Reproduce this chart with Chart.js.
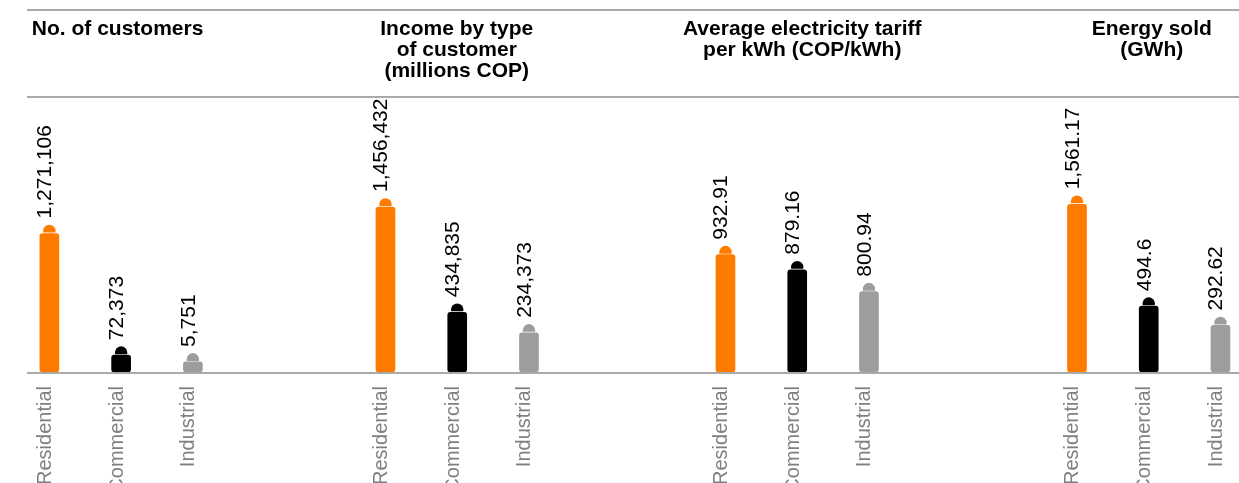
<!DOCTYPE html>
<html>
<head>
<meta charset="utf-8">
<title>Customers, income, tariff and energy by customer type</title>
<script src="https://cdn.jsdelivr.net/npm/chart.js@4.4.1/dist/chart.umd.min.js"></script>
<style>
  html, body { margin: 0; padding: 0; background: #fff; overflow: hidden; }
  #stage { position: relative; width: 1239px; height: 483px; overflow: hidden; background: #fff; }
  .rule { position: absolute; left: 27px; right: 0; height: 2px; background: #a9a9a9; }
  .panel { position: absolute; top: 0; left: 0; width: 1300px; height: 483px; }
</style>
</head>
<body>
<div id="stage">
  <div class="rule" style="top:9px"></div>
  <div class="rule" style="top:96px"></div>
  <div class="rule" style="top:372px"></div>
  <div class="panel"><canvas id="panel0" width="1300" height="483"></canvas></div>
  <div class="panel"><canvas id="panel1" width="1300" height="483"></canvas></div>
  <div class="panel"><canvas id="panel2" width="1300" height="483"></canvas></div>
  <div class="panel"><canvas id="panel3" width="1300" height="483"></canvas></div>
</div>
<script>
// ---- data ----
const categories = ['Residential', 'Commercial', 'Industrial'];

const titleCustomers = ['No. of customers'];
const titleIncome = ['Income by type', 'of customer', '(millions COP)'];
const titleTariff = ['Average electricity tariff', 'per kWh (COP/kWh)'];
const titleEnergy = ['Energy sold', '(GWh)'];

const customers = [1271106, 72373, 5751];
const incomeMillionsCOP = [1456432, 434835, 234373];
const tariffCOPperKWh = [932.91, 879.16, 800.94];
const energyGWh = [1561.17, 494.6, 292.62];

// ---- styling ----
const FONT = '"Liberation Sans", Arial, Helvetica, sans-serif';
const barColors = ['#ff7b00', '#000000', '#9d9d9d'];
const CANVAS_W = 1300;
const AREA_W = 215.25;          // three category slots per panel
const TOP_BLOCK = 100;          // title block height above the plot area

const fmt = v => v.toLocaleString('en-US', { maximumFractionDigits: 2 });

// panel heading, rounded cap above each bar, and the rotated value labels
const capsAndLabels = {
  id: 'capsAndLabels',
  afterDatasetsDraw(chart, args, opts) {
    const ctx = chart.ctx;
    const ds = chart.data.datasets[0];
    const area = chart.chartArea;

    // heading, centred over the panel
    ctx.save();
    ctx.font = 'bold 21px ' + FONT;
    ctx.fillStyle = '#000';
    ctx.textAlign = 'center';
    ctx.textBaseline = 'alphabetic';
    const cx = (area.left + area.right) / 2 + (opts.titleShift || 0);
    opts.title.forEach((line, k) => ctx.fillText(line, cx, 35 + k * 21));
    ctx.restore();

    chart.getDatasetMeta(0).data.forEach((bar, i) => {
      const { x, y } = bar.getProps(['x', 'y'], true);
      ctx.save();
      ctx.beginPath();
      ctx.rect(x - 10, y - 20, 20, 19);
      ctx.clip();
      ctx.beginPath();
      ctx.arc(x, y - 2.6, 6.2, 0, Math.PI * 2);
      ctx.fillStyle = ds.backgroundColor[i];
      ctx.fill();
      ctx.restore();

      ctx.save();
      ctx.translate(x + 2, y - 15);
      ctx.rotate(-Math.PI / 2);
      ctx.font = '21px ' + FONT;
      ctx.fillStyle = '#000';
      ctx.textAlign = 'left';
      ctx.textBaseline = 'alphabetic';
      ctx.fillText(fmt(ds.data[i]), 0, 0);
      ctx.restore();
    });
  }
};

function makePanel(canvasId, title, values, areaLeft, yMin, yMax, titleShift) {
  return new Chart(document.getElementById(canvasId), {
    type: 'bar',
    data: {
      labels: categories,
      datasets: [{
        data: values,
        base: yMin,
        backgroundColor: barColors,
        borderWidth: 0,
        borderRadius: 3,
        borderSkipped: false,
        barThickness: 19
      }]
    },
    options: {
      responsive: false,
      animation: false,
      devicePixelRatio: 1,
      events: [],
      layout: { padding: { left: areaLeft, right: CANVAS_W - areaLeft - AREA_W, top: TOP_BLOCK, bottom: 0 } },
      plugins: {
        legend: { display: false },
        tooltip: { enabled: false },
        title: { display: false },
        capsAndLabels: { title: title, titleShift: titleShift }
      },
      scales: {
        x: {
          grid: { display: false, drawTicks: false },
          border: { display: false },
          ticks: {
            autoSkip: false,
            minRotation: 90,
            maxRotation: 90,
            padding: 14,
            labelOffset: -4,
            color: '#808080',
            font: { family: FONT, size: 20 }
          },
          afterFit(scale) { scale.height = 111; }
        },
        y: { display: false, min: yMin, max: yMax }
      }
    },
    plugins: [capsAndLabels]
  });
}

makePanel('panel0', titleCustomers, customers, 13.5, -93600, 2586200, -3.5);
makePanel('panel1', titleIncome, incomeMillionsCOP, 349.6, -145630, 2495150, -0.5);
makePanel('panel2', titleTariff, tariffCOPperKWh, 689.6, 513.9, 1485.3, 5);
makePanel('panel3', titleEnergy, energyGWh, 1041.1, -194.8, 2653.4, 3);
</script>
</body>
</html>
